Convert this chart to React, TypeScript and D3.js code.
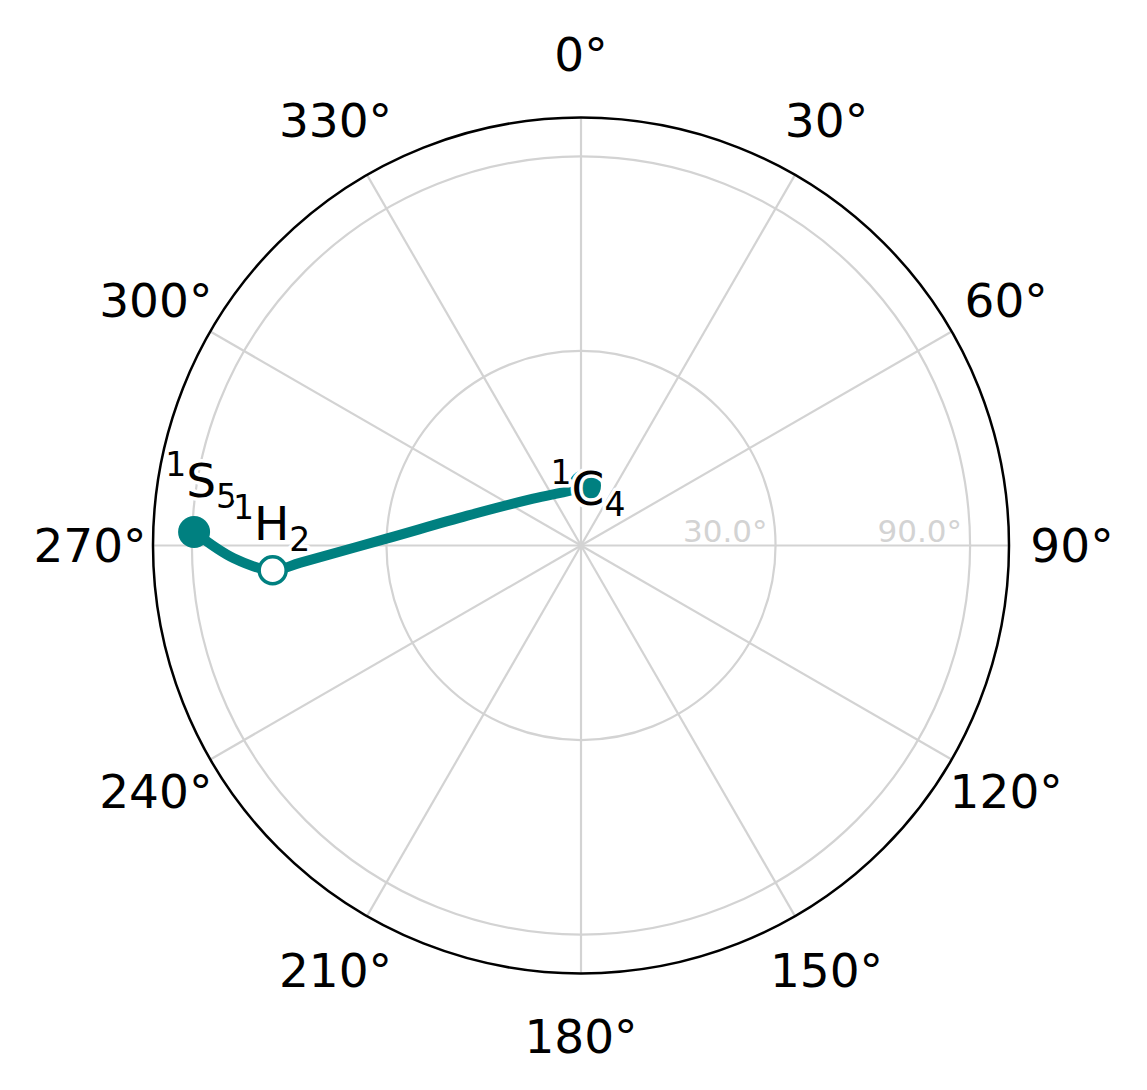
import { useRef, useEffect } from "react";
import * as d3 from "d3";

// angular axis (degrees, clockwise from top)
const angleTicks = [0, 30, 60, 90, 120, 150, 180, 210, 240, 270, 300, 330];
const angleTickLabels = ["0°", "30°", "60°", "90°", "120°", "150°", "180°", "210°", "240°", "270°", "300°", "330°"];

// radial axis (normalised radius) and its labels
const radialTicks = [0.5, 1.0];
const radialTickLabels = ["30.0°", "90.0°"];
const radialMax = 1.1;

// conformers
const conformerNames = ["S", "H", "C"];
const conformerSup = ["1", "1", "1"];
const conformerSub = ["5", "2", "4"];
const conformerPhi = [272.0, 265.4, 3.8];
const conformerR = [0.995, 0.795, 0.154];
const conformerFilled = [true, false, true];

// transition path
const pathPhi = [272.0, 267.9, 265.4, 266.5, 272.1, 284.7, 314.4, 348.7, 3.8];
const pathR = [0.995, 0.893, 0.795, 0.722, 0.498, 0.302, 0.172, 0.144, 0.154];

const TEAL = "#008080";
const GRID = "#d3d3d3";
const FONT = "DejaVu Sans, sans-serif";

export default function App() {
  const svgRef = useRef<SVGSVGElement>(null);

  useEffect(() => {
    if (!svgRef.current) return;
    const svg = d3.select(svgRef.current);
    svg.selectAll("*").remove();

    const W = 1147;
    const H = 1090;
    const cx = 581;
    const cy = 545.5;
    const outer = 428;

    svg.attr("width", W).attr("height", H).attr("viewBox", `0 0 ${W} ${H}`);

    const g = svg.append("g").attr("transform", `translate(${cx},${cy})`);

    const r = d3.scaleLinear().domain([0, radialMax]).range([0, outer]);
    const rad = (deg: number) => (deg * Math.PI) / 180;

    // spokes
    g.selectAll(".spoke")
      .data(angleTicks)
      .join("line")
      .attr("x1", 0)
      .attr("y1", 0)
      .attr("x2", (d) => outer * Math.sin(rad(d)))
      .attr("y2", (d) => -outer * Math.cos(rad(d)))
      .attr("stroke", GRID)
      .attr("stroke-width", 2.2);

    // grid circles
    g.selectAll(".ring")
      .data(radialTicks)
      .join("circle")
      .attr("r", (d) => r(d))
      .attr("fill", "none")
      .attr("stroke", GRID)
      .attr("stroke-width", 2.2);

    // outer frame
    g.append("circle")
      .attr("r", outer)
      .attr("fill", "none")
      .attr("stroke", "#000")
      .attr("stroke-width", 2.5);

    // radial labels
    g.selectAll(".rlabel")
      .data(radialTicks)
      .join("text")
      .attr("x", (d) => r(d) - 8)
      .attr("y", -4)
      .attr("text-anchor", "end")
      .attr("fill", GRID)
      .style("font-family", FONT)
      .style("font-size", "31px")
      .text((_, i) => radialTickLabels[i]);

    // angular labels
    const labelR = 491;
    g.selectAll(".alabel")
      .data(angleTicks)
      .join("text")
      .attr("x", (d) => labelR * Math.sin(rad(d)))
      .attr("y", (d) => -labelR * Math.cos(rad(d)))
      .attr("text-anchor", "middle")
      .attr("dominant-baseline", "central")
      .attr("fill", "#000")
      .style("font-family", FONT)
      .style("font-size", "47px")
      .text((_, i) => angleTickLabels[i]);

    // path (unwrap angles so the line does not jump across 0°)
    const unwrapped: number[] = [];
    pathPhi.forEach((p, i) => {
      if (i === 0) {
        unwrapped.push(p);
        return;
      }
      let v = p;
      const prev = unwrapped[i - 1];
      while (v - prev > 180) v -= 360;
      while (v - prev < -180) v += 360;
      unwrapped.push(v);
    });
    const pts: [number, number][] = unwrapped.map((p, i) => [rad(p), r(pathR[i])]);
    const line = d3
      .lineRadial<[number, number]>()
      .angle((d) => d[0])
      .radius((d) => d[1])
      .curve(d3.curveCatmullRom.alpha(0.5));

    g.append("path")
      .attr("d", line(pts))
      .attr("fill", "none")
      .attr("stroke", TEAL)
      .attr("stroke-width", 10)
      .attr("stroke-linecap", "round")
      .attr("stroke-linejoin", "round");

    const conf = conformerNames.map((name, i) => ({
      name,
      sup: conformerSup[i],
      sub: conformerSub[i],
      x: r(conformerR[i]) * Math.sin(rad(conformerPhi[i])),
      y: -r(conformerR[i]) * Math.cos(rad(conformerPhi[i])),
      filled: conformerFilled[i],
    }));

    // markers
    g.selectAll(".marker")
      .data(conf)
      .join("circle")
      .attr("cx", (d) => d.x)
      .attr("cy", (d) => d.y)
      .attr("r", (d) => (d.filled ? 16 : 13.5))
      .attr("fill", (d) => (d.filled ? TEAL : "#fff"))
      .attr("stroke", TEAL)
      .attr("stroke-width", (d) => (d.filled ? 0 : 3.5));

    // labels with a white halo
    const labelShift = [
      [7, -35],
      [-1, -30],
      [3, 19],
    ];
    const labels = g
      .selectAll(".clabel")
      .data(conf)
      .join("text")
      .attr("x", (d, i) => d.x + labelShift[i][0])
      .attr("y", (d, i) => d.y + labelShift[i][1])
      .attr("text-anchor", "middle")
      .attr("fill", "#000")
      .attr("stroke", "#fff")
      .attr("stroke-width", 7)
      .attr("stroke-linejoin", "round")
      .attr("paint-order", "stroke")
      .style("font-family", FONT)
      .style("font-size", "47px");

    labels
      .append("tspan")
      .attr("dy", -21)
      .style("font-size", "33px")
      .text((d) => d.sup);
    labels
      .append("tspan")
      .attr("dy", 21)
      .text((d) => d.name);
    labels
      .append("tspan")
      .attr("dy", 11)
      .style("font-size", "33px")
      .text((d) => d.sub);
  }, []);

  return (
    <svg
      ref={svgRef}
      style={{ position: "absolute", left: 0, top: 0, background: "#fff" }}
    />
  );
}
